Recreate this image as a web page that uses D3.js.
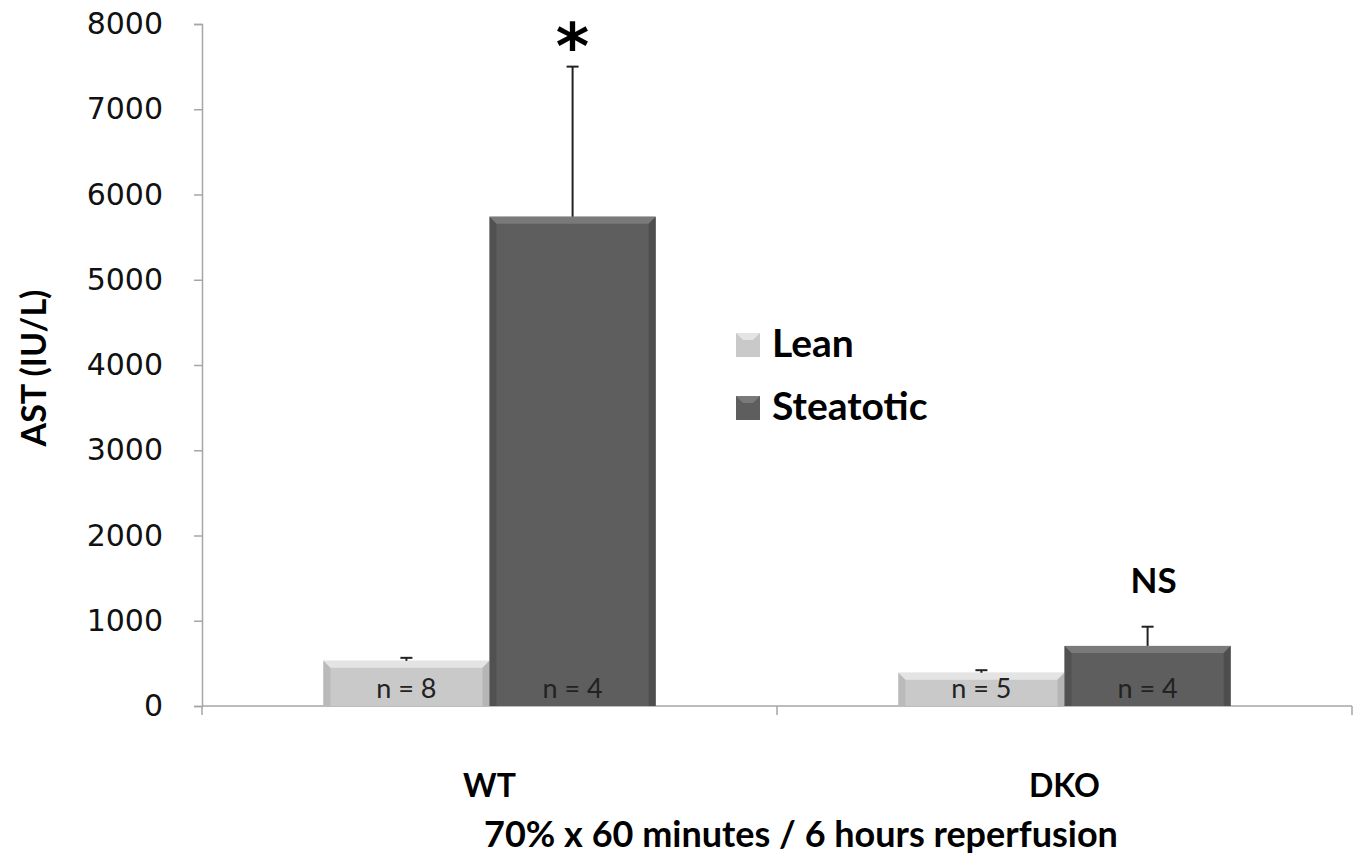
<!DOCTYPE html>
<html>
<head>
<meta charset="utf-8">
<script src="https://cdn.jsdelivr.net/npm/d3@7"></script>
<style>
  body { margin: 0; background: #fff; }
  svg { display: block; }
</style>
</head>
<body>
<svg id="chart"></svg>
<script>
// Data
const groups = ['WT', 'DKO'];
const seriesNames = ['Lean', 'Steatotic'];
const leanValues = [530, 390];
const leanErrors = [35, 30];
const steatoticValues = [5740, 705];
const steatoticErrors = [1760, 225];
const nLabels = [['n = 8', 'n = 4'], ['n = 5', 'n = 4']];
const signif = ['*', 'NS'];
const yTicks = [0, 1000, 2000, 3000, 4000, 5000, 6000, 7000, 8000];

const width = 1360;
const height = 861;
const margin = { top: 24, right: 8, bottom: 155, left: 202 };
const innerW = width - margin.left - margin.right;
const innerH = height - margin.top - margin.bottom;

const colors = { Lean: '#c9c9c9', Steatotic: '#5e5e5e' };
const light = { Lean: '#e4e4e4', Steatotic: '#7a7a7a' };
const dark = { Lean: '#b0b0b0', Steatotic: '#4a4a4a' };

const svg = d3.select('svg#chart')
    .attr('width', width)
    .attr('height', height);

const g = svg.append('g')
    .attr('transform', `translate(${margin.left}, ${margin.top})`);

const xScale = d3.scaleBand()
    .domain(groups)
    .range([0, innerW]);

const inner = d3.scaleBand()
    .domain(seriesNames)
    .range([0, xScale.bandwidth() * 0.578]);

const yScale = d3.scaleLinear()
    .domain([0, 8000])
    .range([innerH, 0]);

// y axis
const yAxis = d3.axisLeft(yScale)
    .tickValues(yTicks)
    .tickSize(8)
    .tickPadding(31)
    .tickFormat(d3.format('d'));

const yg = g.append('g').call(yAxis);
yg.select('.domain').attr('stroke', '#a6a6a6').attr('stroke-width', 1.5);
yg.selectAll('.tick line').attr('stroke', '#a6a6a6').attr('stroke-width', 1.5);
yg.selectAll('.tick text')
    .style('font-family', 'DejaVu Sans, Verdana, sans-serif')
    .style('font-size', '30px')
    .attr('fill', '#111');

// x axis line with category dividers
g.append('line')
    .attr('x1', 0).attr('x2', innerW)
    .attr('y1', innerH).attr('y2', innerH)
    .attr('stroke', '#a6a6a6').attr('stroke-width', 1.5);

const dividers = [0, xScale.bandwidth(), innerW];
g.selectAll('.xdiv')
    .data(dividers)
    .enter()
    .append('line')
    .attr('x1', d => d).attr('x2', d => d)
    .attr('y1', innerH).attr('y2', innerH + 9)
    .attr('stroke', '#a6a6a6').attr('stroke-width', 1.5);

g.selectAll('.xlabel')
    .data(groups)
    .enter()
    .append('text')
    .attr('x', d => xScale(d) + xScale.bandwidth() / 2)
    .attr('y', innerH + 91)
    .attr('text-anchor', 'middle')
    .style('font-family', 'Lato, sans-serif')
    .style('font-weight', 'bold')
    .style('font-size', '32px')
    .text(d => d);

// bars
const barData = [];
groups.forEach((grp, i) => {
    barData.push({ grp, s: 'Lean', v: leanValues[i], e: leanErrors[i], n: nLabels[i][0] });
    barData.push({ grp, s: 'Steatotic', v: steatoticValues[i], e: steatoticErrors[i], n: nLabels[i][1] });
});

const offset = (xScale.bandwidth() - inner.range()[1]) / 2;
const bx = d => xScale(d.grp) + offset + inner(d.s);
const bw = inner.bandwidth();
const bev = 7;

const bars = g.selectAll('.bar')
    .data(barData)
    .enter()
    .append('g')
    .attr('class', 'bar');

bars.append('rect')
    .attr('x', d => bx(d))
    .attr('y', d => yScale(d.v))
    .attr('width', bw)
    .attr('height', d => innerH - yScale(d.v))
    .attr('fill', d => colors[d.s]);

// bevel: light top, darker sides
bars.append('path')
    .attr('d', d => {
        const x0 = bx(d), x1 = x0 + bw, y0 = yScale(d.v);
        return `M${x0},${y0}L${x1},${y0}L${x1 - bev},${y0 + bev}L${x0 + bev},${y0 + bev}Z`;
    })
    .attr('fill', d => light[d.s]);

bars.append('path')
    .attr('d', d => {
        const x0 = bx(d), y0 = yScale(d.v);
        return `M${x0},${y0}L${x0 + bev},${y0 + bev}L${x0 + bev},${innerH}L${x0},${innerH}Z`;
    })
    .attr('fill', d => dark[d.s])
    .attr('opacity', 0.6);

bars.append('path')
    .attr('d', d => {
        const x1 = bx(d) + bw, y0 = yScale(d.v);
        return `M${x1},${y0}L${x1 - bev},${y0 + bev}L${x1 - bev},${innerH}L${x1},${innerH}Z`;
    })
    .attr('fill', d => dark[d.s])
    .attr('opacity', 0.8);

// error bars
bars.append('line')
    .attr('x1', d => bx(d) + bw / 2).attr('x2', d => bx(d) + bw / 2)
    .attr('y1', d => yScale(d.v)).attr('y2', d => yScale(d.v + d.e))
    .attr('stroke', '#222').attr('stroke-width', 2);

bars.append('line')
    .attr('x1', d => bx(d) + bw / 2 - 6).attr('x2', d => bx(d) + bw / 2 + 6)
    .attr('y1', d => yScale(d.v + d.e)).attr('y2', d => yScale(d.v + d.e))
    .attr('stroke', '#222').attr('stroke-width', 2);

// n labels
bars.append('text')
    .attr('x', d => bx(d) + bw / 2)
    .attr('y', innerH - 8)
    .attr('text-anchor', 'middle')
    .style('font-family', 'Lato, sans-serif')
    .style('font-size', '27px')
    .attr('fill', '#222')
    .text(d => d.n);

// significance marks above steatotic bars
const steat = barData.filter(d => d.s === 'Steatotic');
g.selectAll('.sig')
    .data(steat)
    .enter()
    .append('text')
    .attr('x', (d, i) => bx(d) + bw / 2 + (i === 0 ? 0 : 6))
    .attr('y', (d, i) => yScale(d.v + d.e) - (i === 0 ? -2 : 34))
    .attr('text-anchor', 'middle')
    .style('font-family', (d, i) => i === 0 ? 'DejaVu Sans, sans-serif' : 'Lato, sans-serif')
    .style('font-weight', 'bold')
    .style('font-size', (d, i) => i === 0 ? '64px' : '35px')
    .text((d, i) => signif[i]);

// legend
const legend = svg.append('g')
    .attr('transform', 'translate(736, 333)');

const lg = legend.selectAll('.leg')
    .data(seriesNames)
    .enter()
    .append('g')
    .attr('transform', (d, i) => `translate(0, ${i * 63})`);

lg.append('rect')
    .attr('width', 24).attr('height', 24)
    .attr('fill', d => colors[d]);
lg.append('path')
    .attr('d', 'M0,0L24,0L17,7L7,7Z')
    .attr('fill', d => light[d]);

lg.append('text')
    .attr('x', 36)
    .attr('y', 24)
    .style('font-family', 'Lato, sans-serif')
    .style('font-weight', 'bold')
    .style('font-size', '39px')
    .text(d => d);

// axis titles
svg.append('text')
    .attr('transform', 'translate(46, 368) rotate(-90)')
    .attr('text-anchor', 'middle')
    .style('font-family', 'Lato, sans-serif')
    .style('font-weight', 'bold')
    .style('font-size', '34px')
    .text('AST (IU/L)');

svg.append('text')
    .attr('x', 801)
    .attr('y', 847)
    .attr('text-anchor', 'middle')
    .style('font-family', 'Lato, sans-serif')
    .style('font-weight', 'bold')
    .style('font-size', '36px')
    .text('70% x 60 minutes / 6 hours reperfusion');
</script>
</body>
</html>
